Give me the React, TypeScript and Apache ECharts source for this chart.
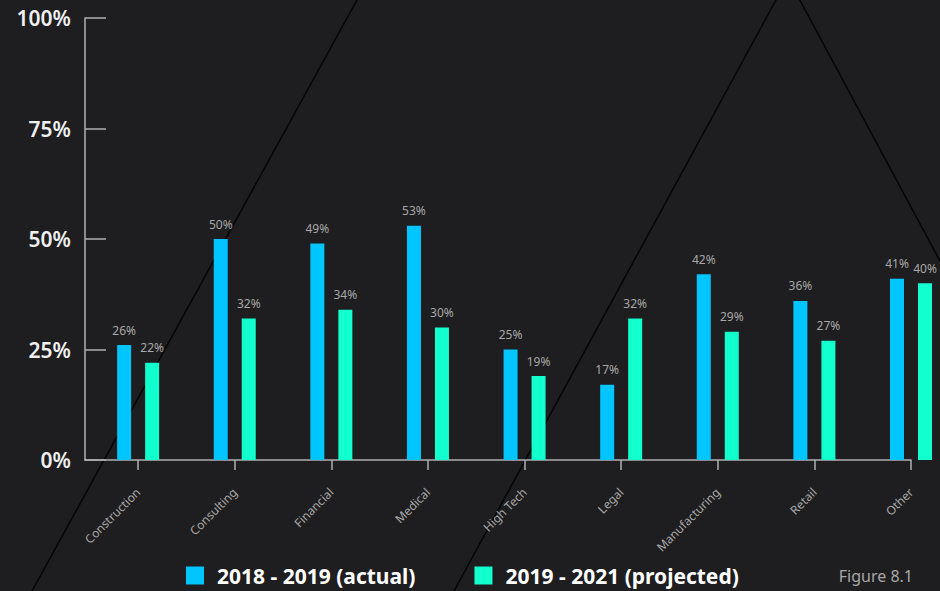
import React, { useEffect, useRef } from "react";
import * as echarts from "echarts";

const categories = ["Construction", "Consulting", "Financial", "Medical", "High Tech", "Legal", "Manufacturing", "Retail", "Other"];
const actual = [26, 50, 49, 53, 25, 17, 42, 36, 41];
const projected = [22, 32, 34, 30, 19, 32, 29, 27, 40];
const seriesNames = ["2018 - 2019 (actual)", "2019 - 2021 (projected)"];

export default function App() {
  const ref = useRef<HTMLDivElement>(null);
  useEffect(() => {
    if (!ref.current) return;
    const chart = echarts.init(ref.current, null, { renderer: "svg" });
    const idx = categories.map((_, i) => i);
    const font = "'Source Sans Pro', 'Noto Sans', sans-serif";
    const barLabel = {
      show: true,
      position: "top",
      distance: 9,
      color: "#a8a8a8",
      fontSize: 12,
      fontFamily: font,
      formatter: (p: any) => p.value[1] + "%",
    };
    chart.setOption({
      animation: false,
      backgroundColor: "#1e1d1f",
      title: {
        text: "Figure 8.1",
        right: 22,
        bottom: 2,
        textStyle: { color: "#a8a8a8", fontSize: 16, fontWeight: "normal", fontFamily: font },
      },
      graphic: [
        { type: "line", silent: true, z: -1, shape: { x1: 32, y1: 591, x2: 357, y2: 0 }, style: { stroke: "#050505", lineWidth: 1.5 } },
        { type: "polyline", silent: true, z: -1, shape: { points: [[454, 591], [788, -22], [940, 261]] }, style: { stroke: "#050505", lineWidth: 1.5, fill: null } },
      ],
      legend: {
        left: 186,
        top: 565,
        itemWidth: 18,
        itemHeight: 18,
        itemGap: 59,
        padding: 0,
        icon: "rect",
        textStyle: { color: "#ffffff", fontSize: 21, lineHeight: 20, fontWeight: "bold", fontFamily: font, padding: [0, 0, 0, 8] },
        data: seriesNames,
      },
      grid: { left: 85, right: 29, top: 18, bottom: 131, containLabel: false },
      xAxis: {
        type: "value",
        min: -0.55,
        max: 8,
        splitLine: { show: false },
        axisLine: { show: true, onZero: false, lineStyle: { color: "#b0b0b0", width: 1.5 } },
        axisTick: { show: true, length: 10, customValues: idx, lineStyle: { color: "#b0b0b0", width: 1.5 } },
        axisLabel: {
          customValues: idx,
          rotate: 45,
          margin: 30,
          color: "#a8a8a8",
          fontSize: 12,
          fontFamily: font,
          formatter: (v: number) => categories[Math.round(v)] ?? "",
        },
      },
      yAxis: {
        type: "value",
        min: 0,
        max: 100,
        interval: 25,
        splitLine: { show: false },
        axisLine: { show: true, onZero: false, lineStyle: { color: "#b0b0b0", width: 1.5 } },
        axisTick: { show: true, inside: true, length: 21, lineStyle: { color: "#b0b0b0", width: 1.5 } },
        axisLabel: {
          margin: 14,
          color: "#f0f0f0",
          fontSize: 21,
          fontWeight: 600,
          fontFamily: font,
          formatter: "{value}%",
        },
      },
      series: [
        {
          name: seriesNames[0],
          type: "bar",
          clip: false,
          barWidth: 14,
          barGap: "100%",
          itemStyle: { color: "#00c5ff" },
          label: barLabel,
          data: actual.map((v, i) => [i, v]),
        },
        {
          name: seriesNames[1],
          type: "bar",
          clip: false,
          barWidth: 14,
          barGap: "100%",
          itemStyle: { color: "#12ffce" },
          label: barLabel,
          data: projected.map((v, i) => [i, v]),
        },
      ],
    });
    return () => chart.dispose();
  }, []);
  return <div ref={ref} style={{ position: "fixed", left: 0, top: 0, width: 940, height: 591 }} />;
}
